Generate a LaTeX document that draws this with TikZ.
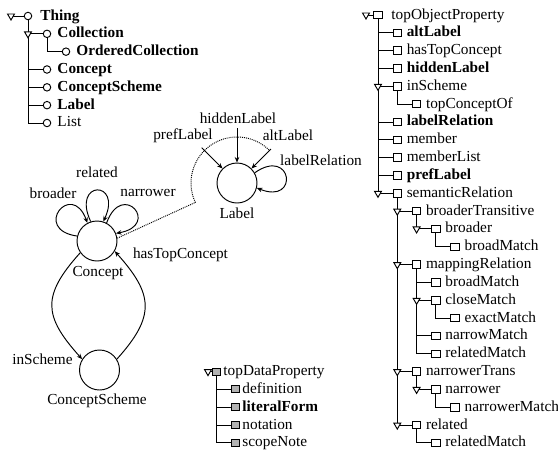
\documentclass[tikz,border=0pt]{standalone}
\usepackage{fontspec}
\setmainfont{Liberation Serif}
\usetikzlibrary{shapes.geometric,arrows.meta,calc}
\newcommand\treefont{\fontsize{15.3}{18}\selectfont}
\tikzset{
  cls/.style={circle, draw, fill=white, minimum size=7.5pt, inner sep=0pt},
  objp/.style={rectangle, draw, fill=white, minimum width=8.5pt, minimum height=7.5pt, inner sep=0pt},
  datp/.style={rectangle, draw, fill=gray!60, minimum width=8pt, minimum height=7pt, inner sep=0pt},
  tog/.style={regular polygon, regular polygon sides=3, shape border rotate=180, draw, fill=white, minimum size=8pt, inner sep=0pt},
  txt/.style={anchor=base west, inner sep=0pt, font=\treefont},
  ent/.style={circle, draw, minimum size=40pt, inner sep=0pt},
  glab/.style={inner sep=0pt, font=\treefont},
  arr/.style={-{Stealth[length=5.5pt,width=4.5pt]}},
}
\begin{document}
\begin{tikzpicture}[x=1pt, y=-1pt, line width=0.95pt]
\path[fill=white] (0,0) rectangle (558,451);
\useasboundingbox (0,0) rectangle (558,451);

% ---------- class hierarchy ----------
\node[cls] (thing) at (28,16) {};
\node[txt] at (40,20) {\textbf{Thing}};
\draw (11,16) -- (thing.west);
\foreach \nm/\i/\lv/\lab/\up in {
  col/1/1/\textbf{Collection}/thing,
  ocol/2/2/\textbf{OrderedCollection}/col,
  con/3/1/\textbf{Concept}/thing,
  cs/4/1/\textbf{ConceptScheme}/thing,
  lab/5/1/\textbf{Label}/thing,
  lst/6/1/List/thing}
{
  \node[cls] (\nm) at ({28+19*\lv},{16+17.83*\i}) {};
  \node[txt] at ($(\nm)+(10,4)$) {\lab};
  \draw (\up.south) |- (\nm.west);
}
\node[tog] (thingT) at (11,16) {};
\node[tog] (colT) at (28,{16+17.83}) {};

% ---------- object properties ----------
\node[objp] (top) at (378,15) {};
\node[txt] at (391,19) {topObjectProperty};
\draw (366,15) -- (top.west);
\foreach \nm/\i/\lv/\lab/\up in {
  alt/1/1/\textbf{altLabel}/top,
  htc/2/1/hasTopConcept/top,
  hid/3/1/\textbf{hiddenLabel}/top,
  isch/4/1/inScheme/top,
  tco/5/2/topConceptOf/isch,
  lrel/6/1/\textbf{labelRelation}/top,
  mem/7/1/member/top,
  meml/8/1/memberList/top,
  pref/9/1/\textbf{prefLabel}/top,
  sem/10/1/semanticRelation/top,
  btr/11/2/broaderTransitive/sem,
  bro/12/3/broader/btr,
  bmA/13/4/broadMatch/bro,
  map/14/2/mappingRelation/sem,
  bmB/15/3/broadMatch/map,
  clm/16/3/closeMatch/map,
  exm/17/4/exactMatch/clm,
  nam/18/3/narrowMatch/map,
  rmA/19/3/relatedMatch/map,
  ntr/20/2/narrowerTrans/sem,
  nar/21/3/narrower/ntr,
  nrm/22/4/narrowerMatch/nar,
  rlt/23/2/related/sem,
  rmB/24/3/relatedMatch/rlt}
{
  \node[objp] (\nm) at ({378+19.3*\lv},{15+17.83*\i}) {};
  \node[txt] at ($(\nm)+(9,4)$) {\lab};
  \draw (\up.south) |- (\nm.west);
}
\node[tog] (topT) at (366,15) {};
\foreach \i/\lv in {4/0, 10/0, 11/1, 12/2, 14/1, 16/2, 20/1, 21/2, 23/1}
  \node[tog] at ({378+19.3*\lv},{15+17.83*\i}) {};

% ---------- data properties ----------
\node[datp] (dp) at (216,{15+17.83*20}) {};
\node[txt] at (223,{19+17.83*20}) {topDataProperty};
\draw (208,{15+17.83*20}) -- (dp.west);
\foreach \nm/\i/\lab in {
  dfn/1/definition,
  lit/2/\textbf{literalForm},
  nota/3/notation,
  scn/4/scopeNote}
{
  \node[datp] (\nm) at (235,{15+17.83*(20+\i)}) {};
  \node[txt] at ($(\nm)+(7,4)$) {\lab};
  \draw (dp.south) |- (\nm.west);
}
\node[tog] (dpT) at (208,{15+17.83*20}) {};

% ---------- concept graph ----------
\node[ent] (C) at (97,241) {};
\node[ent] (CS) at (99.5,370) {};
\node[ent] (L) at (237,183) {};
\node[glab] at (98,273) {Concept};
\node[glab] at (97,401) {ConceptScheme};
\node[glab] at (237,213) {Label};

\draw[arr] (C.166) to[out=172,in=110,distance=46pt] (C.118);
\draw[arr] (C.108) to[out=115,in=65,distance=46pt] (C.72);
\draw[arr] (C.62) to[out=70,in=10,distance=46pt] (C.22);
\node[glab] at (97,172) {related};
\node[glab] at (53,193) {broader};
\node[glab] at (148,193) {narrower};

\draw[arr] (C.215) to[out=228,in=132,distance=58pt] (CS.148);
\draw[arr] (CS.32) to[out=48,in=312,distance=58pt] (C.330);
\node[glab] at (42.5,359) {inScheme};
\node[glab] at (180.5,255) {hasTopConcept};

\coordinate (dA) at ($(L)+(205:46pt)$);
\draw[densely dotted] (C.8) -- (dA) arc[start angle=205, end angle=45, radius=46pt];
\coordinate (pS) at ($(L)+(135:50pt)$);
\coordinate (hS) at ($(L)+(90:55pt)$);
\coordinate (aS) at ($(L)+(45:48pt)$);
\draw[arr] (pS) -- (L.135);
\draw[arr] (hS) -- (L.90);
\draw[arr] (aS) -- (L.45);
\draw[arr] (L.30) to[out=35,in=-22,distance=46pt] (L.-14);
\node[glab] at (183,136) {prefLabel};
\node[glab] at (238,118) {hiddenLabel};
\node[glab] at (288,135) {altLabel};
\node[glab] at (321,160) {labelRelation};
\end{tikzpicture}
\end{document}
